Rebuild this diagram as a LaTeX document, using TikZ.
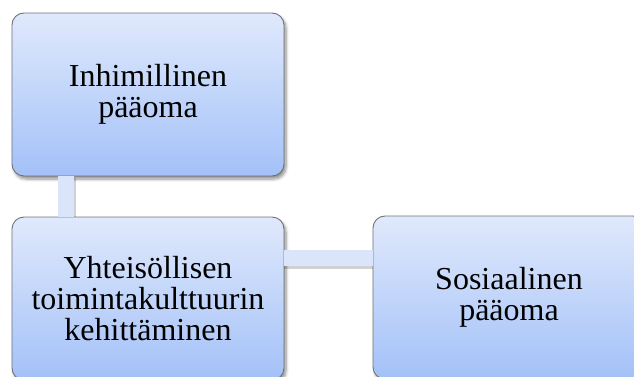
\documentclass[tikz,border=0pt]{standalone}
\usepackage{fontspec}
\setmainfont{Liberation Serif}
\usetikzlibrary{shadows.blur}
\definecolor{boxtop}{HTML}{E0E9FC}
\definecolor{boxbot}{HTML}{A3C1F8}
\definecolor{boxline}{HTML}{707478}
\definecolor{linkfill}{HTML}{DAE4FA}
\tikzset{
  x=1pt, y=1pt,
  box/.style={rectangle, rounded corners=12pt, minimum width=272pt,
    minimum height=163pt, draw=boxline, line width=0.9pt,
    top color=boxtop, bottom color=boxbot, align=center,
    font=\fontsize{32}{31}\selectfont, text=black,
    blur shadow={shadow xshift=2pt, shadow yshift=-3pt,
      shadow blur steps=6, shadow blur radius=3pt, shadow opacity=45}},
  link/.style={line width=16pt, draw=linkfill},
  linkshade/.style={line width=16pt, draw=black, opacity=0.18}
}
\begin{document}
\begin{tikzpicture}
\useasboundingbox (0,0) rectangle (634,-377);
% boxes
\node[box] (a) at (148,-94.5) {Inhimillinen\\pääoma};
\node[box] (b) at (148,-298.5) {Yhteisöllisen\\toimintakulttuurin\\kehittäminen};
\node[box] (c) at (509,-297.5) {Sosiaalinen\\pääoma};
% connectors, with a faint shade beneath each
\draw[linkshade] ([shift={(56pt,-2pt)}]a.south west) -- ([shift={(56pt,0pt)}]b.north west);
\draw[link] ([xshift=54pt]a.south west) -- ([xshift=54pt]b.north west);
\draw[linkshade] ([yshift=-44pt]b.north east) -- ([yshift=-44pt]b.north east -| c.west);
\draw[link] ([yshift=-41pt]b.north east) -- ([yshift=-41pt]b.north east -| c.west);
\end{tikzpicture}
\end{document}
